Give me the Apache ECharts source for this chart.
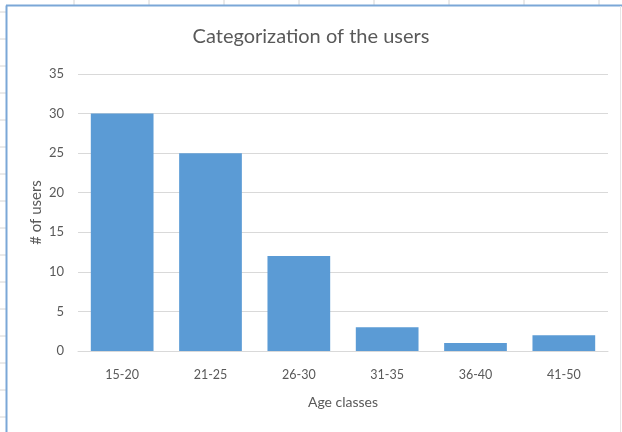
<!DOCTYPE html>
<html>
<head>
<meta charset="utf-8">
<script src="https://cdn.jsdelivr.net/npm/echarts@6/dist/echarts.min.js"></script>
<style>
html,body{margin:0;padding:0;background:#fff;}
#chart{width:622px;height:432px;}
</style>
</head>
<body>
<div id="chart"></div>
<script>
const categories = ['15-20', '21-25', '26-30', '31-35', '36-40', '41-50'];
const users = [30, 25, 12, 3, 1, 2];
const yTicks = [0, 5, 10, 15, 20, 25, 30, 35];

const chart = echarts.init(document.getElementById('chart'));
const FONT = 'Lato';
const TXT = '#595959';

// spreadsheet background decoration
const deco = [];
[74, 149, 224, 299, 374, 449, 524, 599].forEach(x => {
  deco.push({type:'line', shape:{x1:x, y1:0, x2:x, y2:5}, style:{stroke:'#d4d4d4', lineWidth:1}, silent:true});
});
for (let y = 12; y < 432; y += 27) {
  deco.push({type:'line', shape:{x1:0, y1:y, x2:6, y2:y}, style:{stroke:'#d4d4d4', lineWidth:1}, silent:true});
}
deco.push({type:'line', shape:{x1:6.5, y1:5.5, x2:6.5, y2:432}, style:{stroke:'#7ba7d7', lineWidth:2}, silent:true});
deco.push({type:'line', shape:{x1:6, y1:5.5, x2:622, y2:5.5}, style:{stroke:'#7ba7d7', lineWidth:2}, silent:true});
deco.push({type:'line', shape:{x1:620.5, y1:6, x2:620.5, y2:432}, style:{stroke:'#e6e6e6', lineWidth:1}, silent:true});

chart.setOption({
  backgroundColor: '#ffffff',
  animation: false,
  graphic: deco,
  title: {
    text: 'Categorization of the users',
    left: 'center',
    top: 22,
    textStyle: {fontFamily: FONT, fontSize: 20, fontWeight: 'normal', color: TXT}
  },
  grid: {left: 78, right: 14, top: 74, bottom: 81, containLabel: false},
  xAxis: {
    type: 'category',
    data: categories,
    name: 'Age classes',
    nameLocation: 'middle',
    nameGap: 44,
    nameMoveOverlap: false,
    nameTextStyle: {fontFamily: FONT, fontSize: 14, color: TXT},
    axisLine: {show: true, lineStyle: {color: '#d9d9d9', width: 1}},
    axisTick: {show: false},
    axisLabel: {fontFamily: FONT, fontSize: 12.5, color: TXT, margin: 17}
  },
  yAxis: {
    type: 'value',
    min: yTicks[0],
    max: yTicks[yTicks.length - 1],
    interval: yTicks[1] - yTicks[0],
    name: '# of users',
    nameLocation: 'middle',
    nameGap: 34,
    nameMoveOverlap: false,
    nameRotate: 90,
    nameTextStyle: {fontFamily: FONT, fontSize: 15, color: TXT},
    axisLine: {show: false},
    axisTick: {show: false},
    axisLabel: {fontFamily: FONT, fontSize: 13, color: TXT, margin: 14},
    splitLine: {lineStyle: {color: '#d9d9d9', width: 1}}
  },
  series: [{
    type: 'bar',
    data: users,
    barCategoryGap: '29%',
    itemStyle: {color: '#5b9bd5'}
  }]
});
</script>
</body>
</html>
